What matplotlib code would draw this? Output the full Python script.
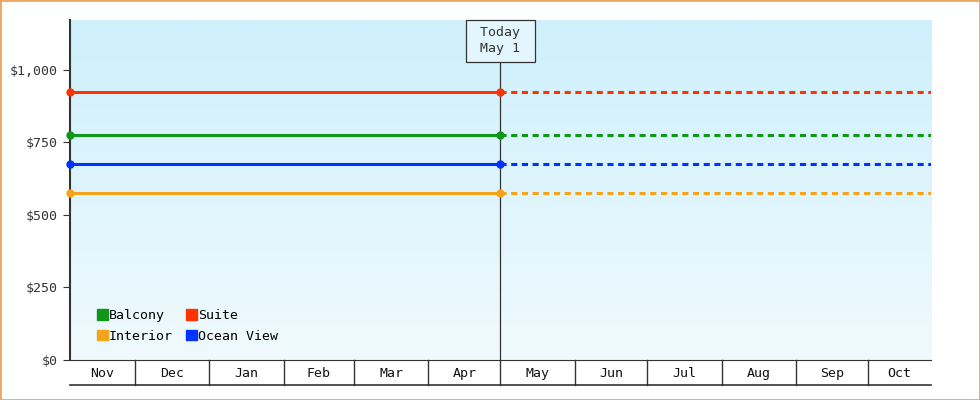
import matplotlib
matplotlib.use("Agg")
import matplotlib.pyplot as plt
import matplotlib.dates as mdates
import numpy as np
from datetime import date
from matplotlib.patches import Rectangle

plt.rcParams['font.family'] = ['DejaVu Sans Mono']

# data
series = ['Balcony', 'Interior', 'Suite', 'Ocean View']
prices = [775, 575, 925, 675]
colors = ['#109618', '#f5a31a', '#ff3300', '#0033ff']
start = date(2023, 11, 4)
today = date(2024, 5, 1)
end = date(2024, 10, 27)
months = ['Nov', 'Dec', 'Jan', 'Feb', 'Mar', 'Apr', 'May', 'Jun', 'Jul', 'Aug', 'Sep', 'Oct']
month_starts = [date(2023, 12, 1)] + [date(2024, m, 1) for m in range(1, 11)]

fig = plt.figure(figsize=(9.8, 4.0), dpi=100)
fig.patches.append(Rectangle((0, 0), 1, 1, transform=fig.transFigure, fill=False,
                             edgecolor='#e8a860', linewidth=2))
ax = fig.add_axes([0.0714, 0.1, 0.8786, 0.85])
x0, x1, xt = mdates.date2num(start), mdates.date2num(end), mdates.date2num(today)
ax.set_xlim(x0, x1)
ax.set_ylim(0, 1172)

grad = np.linspace(0, 1, 256).reshape(-1, 1)
cmap = matplotlib.colors.LinearSegmentedColormap.from_list('bg', ['#f0fafe', '#cdf0fc'])
ax.imshow(grad, aspect='auto', cmap=cmap, origin='lower',
          extent=[x0, x1, 0, 1172], zorder=0)

for p, c in zip(prices, colors):
    ax.plot([x0, xt], [p, p], color=c, lw=2.2, marker='o', markersize=5, markevery=[0, 1],
            zorder=3, clip_on=False)
    ax.plot([xt, x1], [p, p], color=c, lw=2.2, ls=(0, (2, 1.5)), zorder=3)

ax.axvline(xt, color='#333333', lw=0.9, zorder=2)
ax.text(xt, 1100, ' Today \nMay 1', ha='center', va='center', fontsize=9.5, color='#333333',
        linespacing=1.3,
        bbox=dict(boxstyle='square,pad=0.5', fc='#e4f6fd', ec='#333333', lw=0.9), zorder=4)

for s in ['top', 'right']:
    ax.spines[s].set_visible(False)
ax.spines['left'].set_linewidth(1.5)
ax.spines['left'].set_color('#333333')
ax.spines['bottom'].set_color('#333333')
ax.set_yticks([0, 250, 500, 750, 1000])
ax.set_yticklabels(['$0', '$250', '$500', '$750', '$1,000'], fontsize=9.5, color='#333333')
ax.tick_params(axis='y', length=5, color='#333333')
ax.set_xticks([])

# month band below axis
trans = ax.get_xaxis_transform()
edges = [x0] + [mdates.date2num(d) for d in month_starts] + [x1]
for i, m in enumerate(months):
    ax.text((edges[i] + edges[i + 1]) / 2, -0.04, m, transform=trans, ha='center', va='center',
            fontsize=9.5, color='#111111')
for e in edges[1:-1]:
    ax.plot([e, e], [0, -0.074], transform=trans, color='#333333', lw=1, clip_on=False)
ax.plot([x0, x1], [-0.074, -0.074], transform=trans, color='#333333', lw=1.2, clip_on=False)

handles = [Rectangle((0, 0), 1, 1, color=c) for c in colors]
leg = ax.legend(handles, series, ncol=2, loc='lower left', bbox_to_anchor=(0.018, 0.015),
                frameon=False, fontsize=9.5, handlelength=0.8, handleheight=0.8,
                handletextpad=0.1, columnspacing=1.0, labelspacing=0.6)

fig.savefig('out.png', dpi=100)
